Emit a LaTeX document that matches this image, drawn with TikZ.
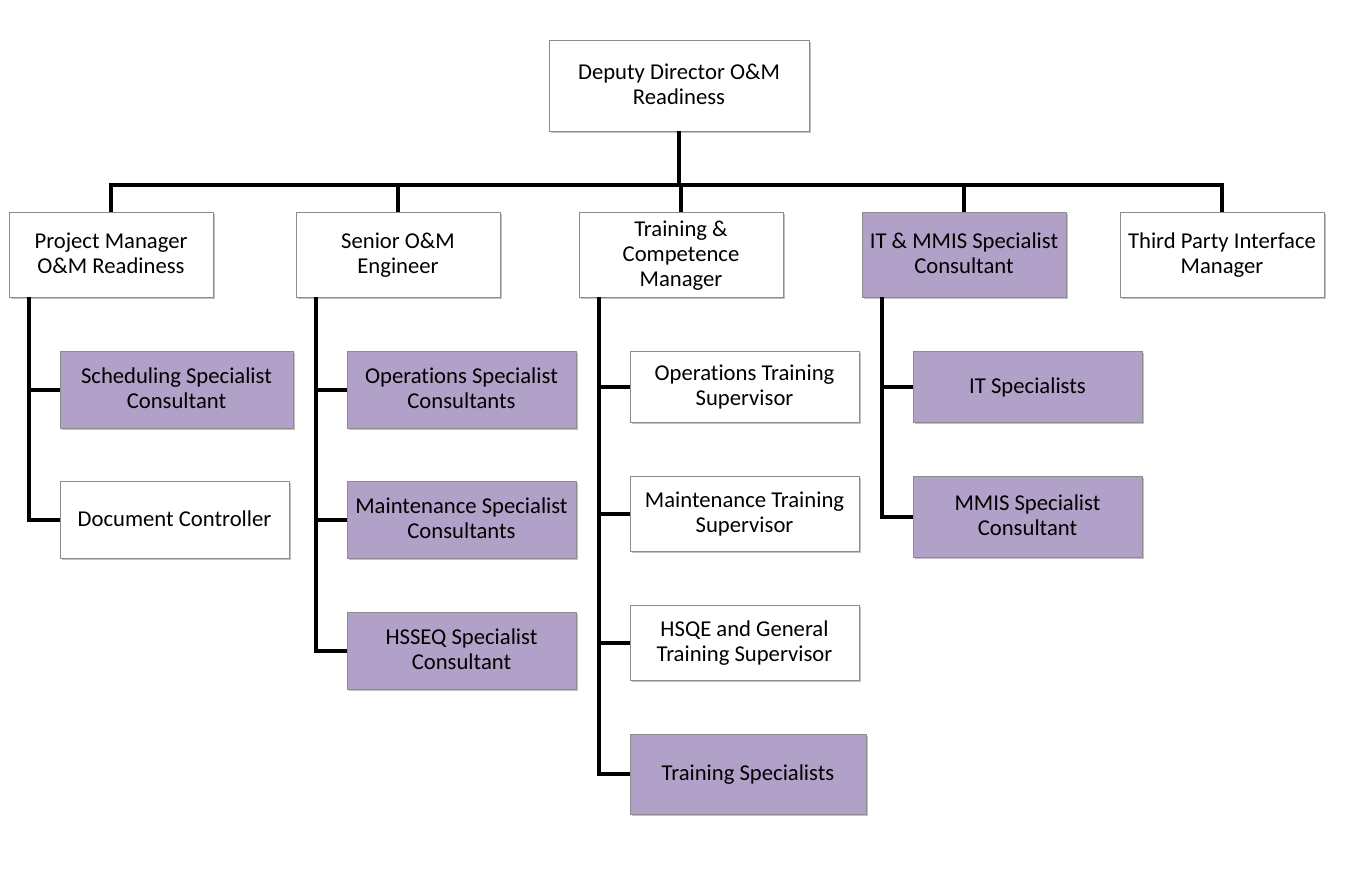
\documentclass[tikz,border=0pt]{standalone}
\usepackage{fontspec}
\setmainfont{Carlito}[Ligatures=NoCommon]
\usetikzlibrary{shadows}
\definecolor{rolepurple}{HTML}{B1A0C7}
\definecolor{boxline}{HTML}{8C8C8C}

\tikzset{
    role/.style={draw=boxline, line width=0.6pt, fill=white, align=flush center,
        inner sep=1pt, font=\fontsize{17}{18.75}\selectfont,
        execute at begin node=\rule{0pt}{14.5pt}, execute at end node=\rule[-4.5pt]{0pt}{0pt},
        drop shadow={shadow xshift=1.2pt, shadow yshift=-1.8pt, opacity=0.4, fill=black!60}},
    lead/.style={role, text width=151pt, minimum height=63.75pt},
    staff/.style={role, text width=169.75pt, minimum height=57.75pt},
    consult/.style={fill=rolepurple},
    link/.style={line width=3pt, line join=miter}
}

\begin{document}
\begin{tikzpicture}[x=0.75pt, y=-0.75pt]
    \useasboundingbox (0,0) rectangle (1346,882);

    % Top of the chart
    \node[role, text width=193pt, minimum height=68.25pt] (dep) at (679,85.5) {Deputy Director O\&M\\Readiness};

    % Direct reports
    \node[lead] (pm) at (111,254.5) {Project Manager\\O\&M Readiness};
    \node[lead] (seng) at (398,254.5) {Senior O\&M\\Engineer};
    \node[lead] (tcm) at (681,254.5) {Training \&\\Competence\\Manager};
    \node[lead, consult] (itm) at (964,254.5) {IT \& MMIS Specialist\\Consultant};
    \node[lead] (tpm) at (1222,254.5) {Third Party Interface\\Manager};

    % Project Manager team
    \node[staff, consult, text width=172.75pt] (sched) at (176.5,389.5) {Scheduling Specialist\\Consultant};
    \node[staff] (doc) at (174.5,519.5) {Document Controller};

    % Senior Engineer team
    \node[staff, consult] (ops) at (461.5,389.5) {Operations Specialist\\Consultants};
    \node[staff, consult] (mnt) at (461.5,519.5) {Maintenance Specialist\\Consultants};
    \node[staff, consult] (hse) at (461.5,650.5) {HSSEQ Specialist\\Consultant};

    % Training team
    \node[staff, minimum height=53.25pt] (ots) at (744.5,386.5) {Operations Training\\Supervisor};
    \node[staff, minimum height=56.25pt] (mts) at (744.5,513.5) {Maintenance Training\\Supervisor};
    \node[staff, minimum height=56.25pt] (hgt) at (744.5,642.5) {HSQE and General\\Training Supervisor};
    \node[staff, consult, text width=175pt, minimum height=60pt] (tsp) at (748,774) {Training Specialists};

    % IT team
    \node[staff, consult, minimum height=53.25pt] (its) at (1027.5,386.5) {IT Specialists};
    \node[staff, consult, minimum height=60.75pt] (mmis) at (1027.5,516.5) {MMIS Specialist\\Consultant};

    % Connectors
    \foreach \n in {pm,seng,tcm,itm,tpm}
        \draw[link] (dep.south) -- ++(0,54) -| (\n.north);

    \foreach \n in {sched,doc}
        \draw[link] ([xshift=15pt]pm.south west) |- (\n.west);
    \foreach \n in {ops,mnt,hse}
        \draw[link] ([xshift=15pt]seng.south west) |- (\n.west);
    \foreach \n in {ots,mts,hgt,tsp}
        \draw[link] ([xshift=15pt]tcm.south west) |- (\n.west);
    \foreach \n in {its,mmis}
        \draw[link] ([xshift=15pt]itm.south west) |- (\n.west);
\end{tikzpicture}
\end{document}
